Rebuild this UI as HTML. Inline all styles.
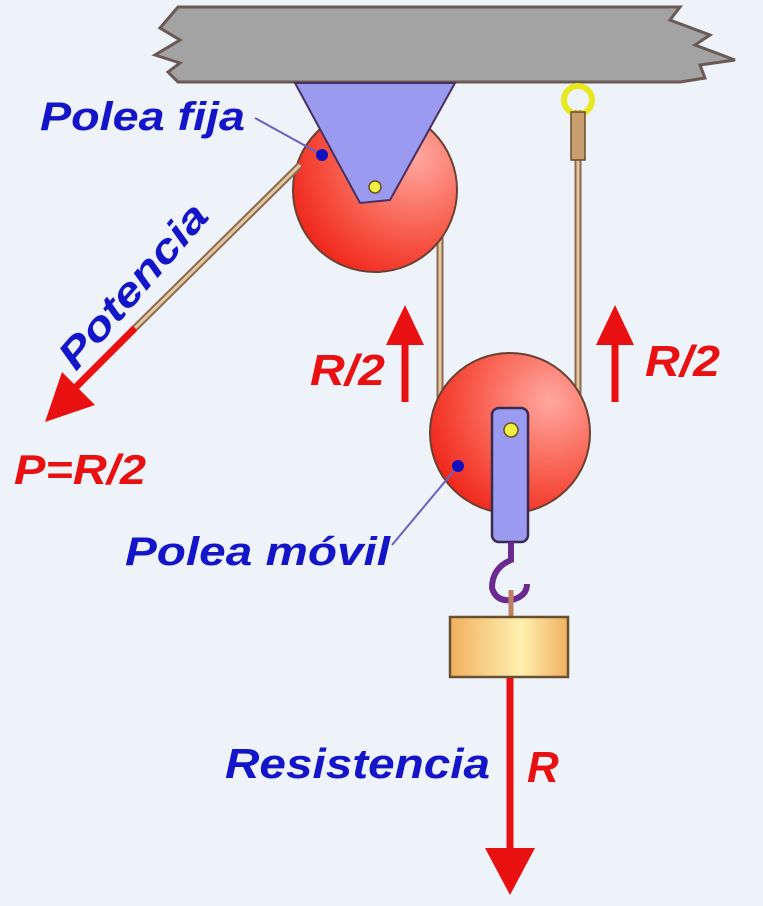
<!DOCTYPE html>
<html><head><meta charset="utf-8"><style>
html,body{margin:0;padding:0;background:#eef2f9;}
svg{display:block}
text{font-family:"Liberation Sans",sans-serif;font-weight:bold;font-style:italic;}
</style></head><body>
<svg width="763" height="906" viewBox="0 0 763 906">
<defs>
<radialGradient id="pg" cx="0.75" cy="0.3" r="0.9">
<stop offset="0" stop-color="#ffa8a0"/><stop offset="0.5" stop-color="#f86050"/><stop offset="1" stop-color="#ee1a10"/>
</radialGradient>
<linearGradient id="wg" x1="0" x2="1">
<stop offset="0" stop-color="#f0b060"/><stop offset="0.6" stop-color="#fff0b0"/><stop offset="1" stop-color="#f0b060"/>
</linearGradient>
</defs>
<rect width="763" height="906" fill="#eef2f9"/>
<polygon points="178,7 680,7 670,20 710,35 695,45 735,60 700,65 705,78 680,82 178,82 168,72 180,63 155,55 180,40 160,28" fill="#a3a3a3" stroke="#6a5a55" stroke-width="3"/>
<line x1="578" y1="110" x2="578" y2="400" stroke="#8a6a50" stroke-width="7"/>
<line x1="578" y1="110" x2="578" y2="400" stroke="#e6c8a0" stroke-width="3"/>
<line x1="440" y1="235" x2="440" y2="400" stroke="#8a6a50" stroke-width="7"/>
<line x1="440" y1="235" x2="440" y2="400" stroke="#e6c8a0" stroke-width="3"/>
<circle cx="375" cy="190" r="82" fill="url(#pg)" stroke="#6a4030" stroke-width="2"/>
<line x1="300" y1="165" x2="135" y2="328" stroke="#8a6a50" stroke-width="7"/>
<line x1="300" y1="165" x2="135" y2="328" stroke="#e6c8a0" stroke-width="3"/>
<polygon points="295,83 455,83 390,200 360,203" fill="#9a9af0" stroke="#4a3060" stroke-width="2"/>
<circle cx="375" cy="187" r="6" fill="#f0f040" stroke="#6a5020" stroke-width="1.5"/>
<circle cx="578" cy="100" r="14" fill="none" stroke="#e8e820" stroke-width="6"/>
<rect x="571" y="112" width="14" height="48" fill="#c8a070" stroke="#6a4a30" stroke-width="1.5"/>
<circle cx="510" cy="433" r="80" fill="url(#pg)" stroke="#6a4030" stroke-width="2"/>
<rect x="492" y="408" width="36" height="134" rx="7" fill="#9a9af0" stroke="#3a2a50" stroke-width="2.5"/>
<circle cx="511" cy="430" r="7" fill="#f0f040" stroke="#6a5020" stroke-width="1.5"/>
<path d="M511,542 L511,560 Q492,568 492,588 Q496,602 512,600 Q527,596 527,584" fill="none" stroke="#6a2a90" stroke-width="6"/>
<line x1="511" y1="590" x2="511" y2="618" stroke="#c08060" stroke-width="5"/>
<rect x="450" y="617" width="118" height="60" fill="url(#wg)" stroke="#6a5030" stroke-width="2.5"/>
<line x1="322" y1="155" x2="255" y2="118" stroke="#6a60c0" stroke-width="2"/>
<circle cx="322" cy="155" r="6" fill="#1010c0"/>
<line x1="458" y1="466" x2="392" y2="545" stroke="#6a60c0" stroke-width="2"/>
<circle cx="458" cy="466" r="6" fill="#1010c0"/>
<g fill="#e81010">
<line x1="135" y1="328" x2="70" y2="393" stroke="#e81010" stroke-width="7"/>
<polygon points="45,422 62,372 95,405"/>
</g>
<g fill="#e81010">
<line x1="510" y1="678" x2="510" y2="855" stroke="#e81010" stroke-width="7"/>
<polygon points="485,848 535,848 510,895"/>
</g>
<g fill="#e81010">
<line x1="405" y1="402" x2="405" y2="340" stroke="#e81010" stroke-width="7"/>
<polygon points="386,345 424,345 405,305"/>
</g>
<g fill="#e81010">
<line x1="615" y1="402" x2="615" y2="340" stroke="#e81010" stroke-width="7"/>
<polygon points="596,345 634,345 615,305"/>
</g>
<text x="40" y="130" font-size="40" textLength="205" lengthAdjust="spacingAndGlyphs" fill="#1414c8">Polea fija</text>
<text x="125" y="565" font-size="40" textLength="265" lengthAdjust="spacingAndGlyphs" fill="#1414c8">Polea móvil</text>
<text x="225" y="778" font-size="42" textLength="265" lengthAdjust="spacingAndGlyphs" fill="#1414c8">Resistencia</text>
<text transform="translate(76,372) rotate(-49)" font-size="40" textLength="205" lengthAdjust="spacingAndGlyphs" fill="#1414c8">Potencia</text>
<text x="14" y="484" font-size="42" textLength="132" lengthAdjust="spacingAndGlyphs" fill="#e81010">P=R/2</text>
<text x="310" y="385" font-size="44" textLength="75" lengthAdjust="spacingAndGlyphs" fill="#e81010">R/2</text>
<text x="645" y="376" font-size="44" textLength="75" lengthAdjust="spacingAndGlyphs" fill="#e81010">R/2</text>
<text x="527" y="782" font-size="44" fill="#e81010">R</text>
</svg>
</body></html>
